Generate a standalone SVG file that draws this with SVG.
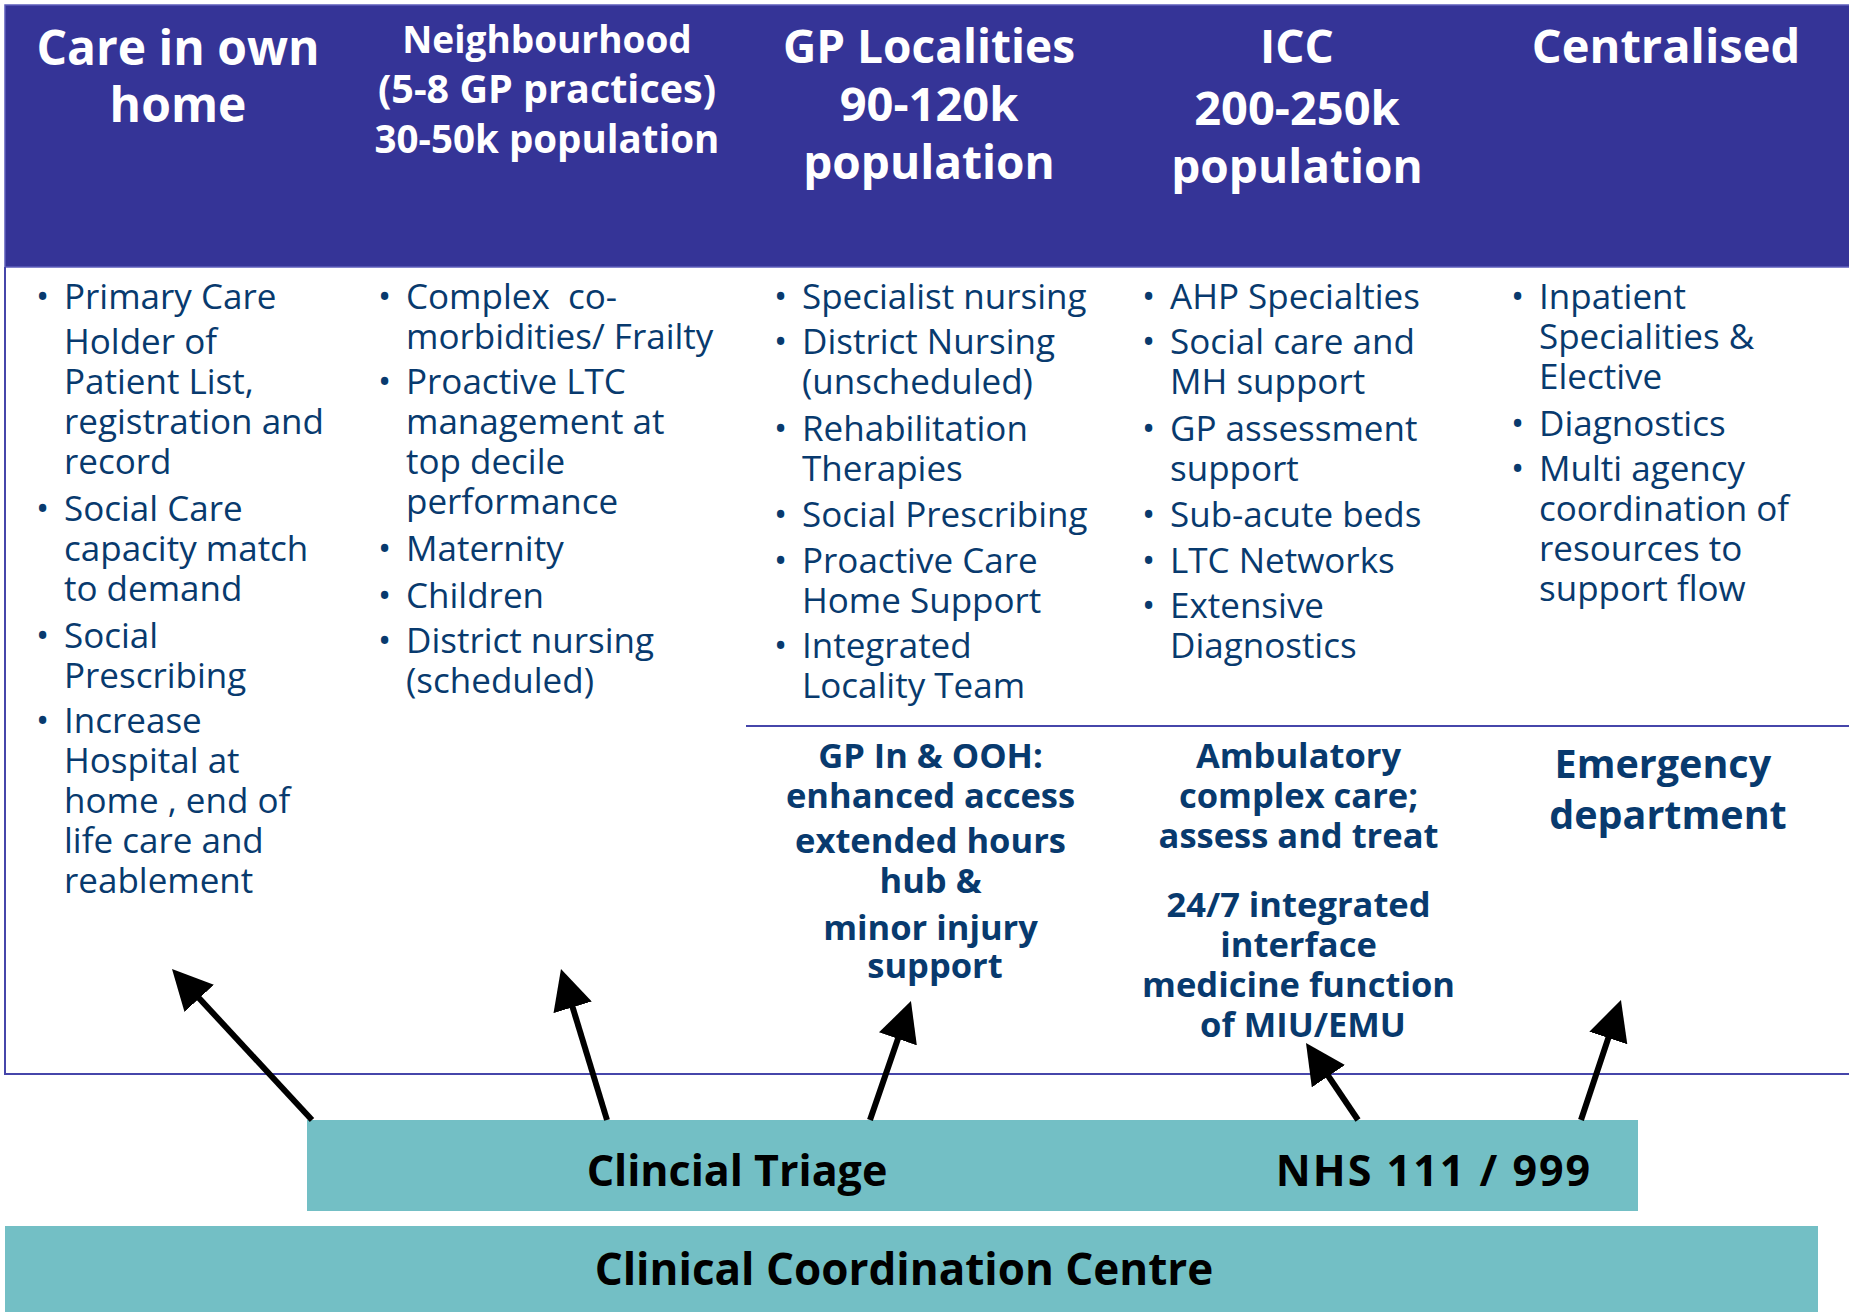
<svg xmlns="http://www.w3.org/2000/svg" width="1849" height="1312" viewBox="0 0 1849 1312">
<style>
.hd{font-family:"Open Sans","Noto Sans",sans-serif;font-weight:700;fill:#ffffff;text-anchor:middle}
.bd{font-family:"Open Sans","Noto Sans",sans-serif;font-size:35px;fill:#083A6E}
.bb{font-family:"Open Sans","Noto Sans",sans-serif;font-weight:700;fill:#083A6E;text-anchor:middle}
.tb{font-family:"Open Sans","Noto Sans",sans-serif;font-weight:700;fill:#000000;text-anchor:middle}
.teal{fill:#73BFC5}
.frame{stroke:#4646AA;stroke-width:2;fill:none}
.arrow{stroke:#000000;stroke-width:6;fill:none;marker-end:url(#ah)}
</style>
<defs>
<marker id="ah" viewBox="0 0 40 40" refX="30" refY="20" markerWidth="40" markerHeight="40" markerUnits="userSpaceOnUse" orient="auto">
<path d="M0,0 L40,20 L0,40 z" fill="#000000"/>
</marker>
</defs>
<rect width="1849" height="1312" fill="#ffffff"/>

<g id="frame">
<rect x="5" y="5" width="1846" height="262" fill="#353497" stroke="#5C5CBA" stroke-width="1.5"/>
<path class="frame" d="M5,267 V1074 H1849"/>
<path class="frame" d="M746,726 H1849"/>
</g>

<g id="col-care-home">
<text class="hd" font-size="48" x="178" y="65">Care in own</text>
<text class="hd" font-size="48" x="178" y="122">home</text>
<text class="bd">
<tspan x="36" y="309">•</tspan><tspan x="64" y="309">Primary Care</tspan>
<tspan x="64" y="354">Holder of</tspan>
<tspan x="64" y="394">Patient List,</tspan>
<tspan x="64" y="434">registration and</tspan>
<tspan x="64" y="474">record</tspan>
<tspan x="36" y="521">•</tspan><tspan x="64" y="521">Social Care</tspan>
<tspan x="64" y="561">capacity match</tspan>
<tspan x="64" y="601">to demand</tspan>
<tspan x="36" y="648">•</tspan><tspan x="64" y="648">Social</tspan>
<tspan x="64" y="688">Prescribing</tspan>
<tspan x="36" y="733">•</tspan><tspan x="64" y="733">Increase</tspan>
<tspan x="64" y="773">Hospital at</tspan>
<tspan x="64" y="813">home , end of</tspan>
<tspan x="64" y="853">life care and</tspan>
<tspan x="64" y="893">reablement</tspan>
</text>
</g>

<g id="col-neighbourhood">
<text class="hd" font-size="37" x="547" y="53">Neighbourhood</text>
<text class="hd" font-size="39.5" x="547" y="103">(5-8 GP practices)</text>
<text class="hd" font-size="38.5" x="547" y="153">30-50k population</text>
<text class="bd" xml:space="preserve"><tspan x="378" y="309">•</tspan><tspan x="406" y="309">Complex  co-</tspan></text>
<text class="bd">
<tspan x="406" y="349">morbidities/ Frailty</tspan>
<tspan x="378" y="394">•</tspan><tspan x="406" y="394">Proactive LTC</tspan>
<tspan x="406" y="434">management at</tspan>
<tspan x="406" y="474">top decile</tspan>
<tspan x="406" y="514">performance</tspan>
<tspan x="378" y="561">•</tspan><tspan x="406" y="561">Maternity</tspan>
<tspan x="378" y="608">•</tspan><tspan x="406" y="608">Children</tspan>
<tspan x="378" y="653">•</tspan><tspan x="406" y="653">District nursing</tspan>
<tspan x="406" y="693">(scheduled)</tspan>
</text>
</g>

<g id="col-gp-localities">
<text class="hd" font-size="46" x="929" y="63">GP Localities</text>
<text class="hd" font-size="47" x="929" y="121">90-120k</text>
<text class="hd" font-size="46" x="929" y="179">population</text>
<text class="bd">
<tspan x="774" y="309">•</tspan><tspan x="802" y="309">Specialist nursing</tspan>
<tspan x="774" y="354">•</tspan><tspan x="802" y="354">District Nursing</tspan>
<tspan x="802" y="394">(unscheduled)</tspan>
<tspan x="774" y="441">•</tspan><tspan x="802" y="441">Rehabilitation</tspan>
<tspan x="802" y="481">Therapies</tspan>
<tspan x="774" y="527">•</tspan><tspan x="802" y="527">Social Prescribing</tspan>
<tspan x="774" y="573">•</tspan><tspan x="802" y="573">Proactive Care</tspan>
<tspan x="802" y="613">Home Support</tspan>
<tspan x="774" y="658">•</tspan><tspan x="802" y="658">Integrated</tspan>
<tspan x="802" y="698">Locality Team</tspan>
</text>
</g>

<g id="col-icc">
<text class="hd" font-size="46" x="1297" y="63">ICC</text>
<text class="hd" font-size="47" x="1297" y="125">200-250k</text>
<text class="hd" font-size="46" x="1297" y="183">population</text>
<text class="bd">
<tspan x="1142" y="309">•</tspan><tspan x="1170" y="309">AHP Specialties</tspan>
<tspan x="1142" y="354">•</tspan><tspan x="1170" y="354">Social care and</tspan>
<tspan x="1170" y="394">MH support</tspan>
<tspan x="1142" y="441">•</tspan><tspan x="1170" y="441">GP assessment</tspan>
<tspan x="1170" y="481">support</tspan>
<tspan x="1142" y="527">•</tspan><tspan x="1170" y="527">Sub-acute beds</tspan>
<tspan x="1142" y="573">•</tspan><tspan x="1170" y="573">LTC Networks</tspan>
<tspan x="1142" y="618">•</tspan><tspan x="1170" y="618">Extensive</tspan>
<tspan x="1170" y="658">Diagnostics</tspan>
</text>
</g>

<g id="col-centralised">
<text class="hd" font-size="47" x="1666" y="63">Centralised</text>
<text class="bd">
<tspan x="1511" y="309">•</tspan><tspan x="1539" y="309">Inpatient</tspan>
<tspan x="1539" y="349">Specialities &amp;</tspan>
<tspan x="1539" y="389">Elective</tspan>
<tspan x="1511" y="436">•</tspan><tspan x="1539" y="436">Diagnostics</tspan>
<tspan x="1511" y="481">•</tspan><tspan x="1539" y="481">Multi agency</tspan>
<tspan x="1539" y="521">coordination of</tspan>
<tspan x="1539" y="561">resources to</tspan>
<tspan x="1539" y="601">support flow</tspan>
</text>
</g>

<g id="box-gp-ooh">
<text class="bb" font-size="34.5">
<tspan x="935" y="768">GP In &amp; OOH:</tspan>
<tspan x="935" y="808">enhanced access</tspan>
<tspan x="935" y="853">extended hours</tspan>
<tspan x="935" y="893">hub &amp;</tspan>
<tspan x="935" y="940">minor injury</tspan>
<tspan x="935" y="978">support</tspan>
</text>
</g>

<g id="box-ambulatory">
<text class="bb" font-size="34.5">
<tspan x="1303" y="768">Ambulatory</tspan>
<tspan x="1303" y="808">complex care;</tspan>
<tspan x="1303" y="848">assess and treat</tspan>
<tspan x="1303" y="917">24/7 integrated</tspan>
<tspan x="1303" y="957">interface</tspan>
<tspan x="1303" y="997">medicine function</tspan>
<tspan x="1303" y="1037">of MIU/EMU</tspan>
</text>
</g>

<g id="box-ed">
<text class="bb" font-size="39.5">
<tspan x="1668" y="778">Emergency</tspan>
<tspan x="1668" y="829">department</tspan>
</text>
</g>

<g id="node-triage">
<rect class="teal" x="307" y="1120" width="1331" height="91"/>
<text class="tb" font-size="43" x="737" y="1186">Clincial Triage</text>
<text class="tb" font-size="43" x="1434" y="1186" letter-spacing="2">NHS 111 / 999</text>
</g>

<g id="node-ccc">
<rect class="teal" x="5" y="1226" width="1813" height="86"/>
<text class="tb" font-size="44" x="904" y="1285">Clinical Coordination Centre</text>
</g>

<g id="connectors">
<line class="arrow" x1="312" y1="1120" x2="178.8" y2="976.3"/>
<line class="arrow" x1="607" y1="1120" x2="563.9" y2="978.6"/>
<line class="arrow" x1="870" y1="1120" x2="907.7" y2="1010.5"/>
<line class="arrow" x1="1358" y1="1120" x2="1311.6" y2="1051.3"/>
<line class="arrow" x1="1581" y1="1120" x2="1617.8" y2="1009.5"/>
</g>
</svg>
